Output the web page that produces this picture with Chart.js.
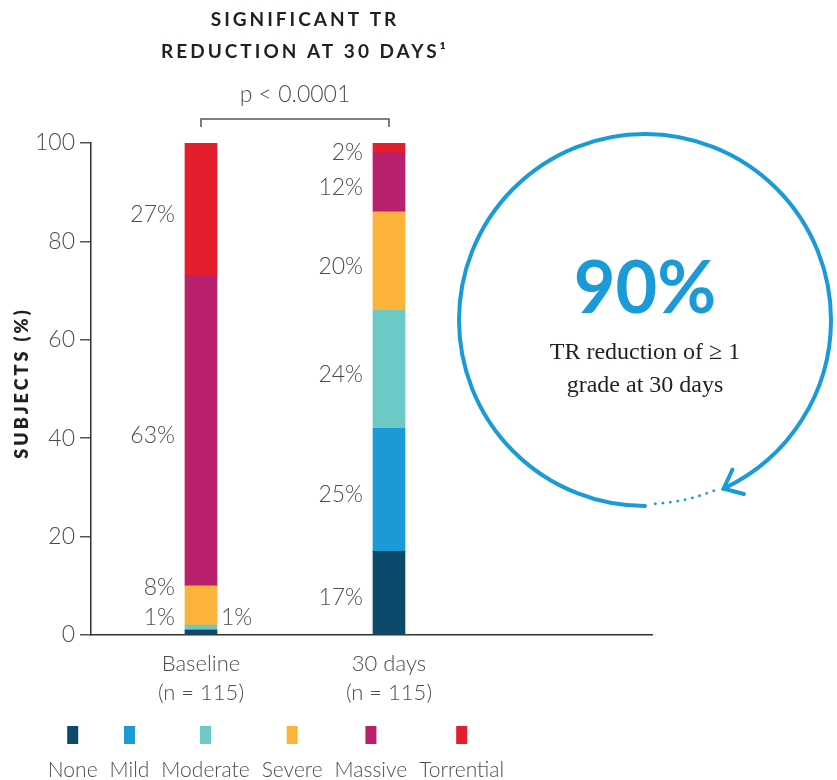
<!DOCTYPE html>
<html>
<head>
<meta charset="utf-8">
<script src="https://cdn.jsdelivr.net/npm/chart.js@4.4.1/dist/chart.umd.min.js"></script>
<style>
html, body { margin: 0; padding: 0; background: #fff; }
</style>
</head>
<body>
<canvas id="trChart" width="837" height="780"></canvas>
<script>
// bars sit on a linear x axis: 1 = baseline, 2 = 30 days
var positions = [1, 2];
var categories = [['Baseline', '(n = 115)'], ['30 days', '(n = 115)']];
var grades = ['None', 'Mild', 'Moderate', 'Severe', 'Massive', 'Torrential'];
var none = [1, 17];
var mild = [0, 25];
var moderate = [1, 24];
var severe = [8, 20];
var massive = [63, 12];
var torrential = [27, 2];
var yTicks = [0, 20, 40, 60, 80, 100];

var colors = ['#0b4a6a', '#1b9ad6', '#6cc9c5', '#fbb33b', '#b81f6d', '#e41e2d'];
var textColor = '#4d4d4d';
var lightFont = 'Lato, "Open Sans", sans-serif';

var segmentLabels = {
    id: 'segmentLabels',
    afterDatasetsDraw: function (chart) {
        var ctx = chart.ctx;
        var zero = chart.scales.y.getPixelForValue(0);
        ctx.save();
        ctx.font = '300 23px ' + lightFont;
        ctx.fillStyle = textColor;
        ctx.textBaseline = 'middle';
        positions.forEach(function (p, i) {
            var lastLeft = null;
            chart.data.datasets.forEach(function (ds, d) {
                var v = ds.data[i];
                if (!v) return;
                var bar = chart.getDatasetMeta(d).data[i];
                var y = Math.min((bar.y + bar.base) / 2 + 5, zero - 17);
                var left = true;
                if (lastLeft !== null && lastLeft - y < 30) {
                    if (v <= 2) left = false;
                    else y = lastLeft - 30;
                }
                ctx.textAlign = left ? 'right' : 'left';
                ctx.fillText(v + '%', left ? bar.x - bar.width / 2 - 10 : bar.x + bar.width / 2 + 4, y);
                if (left) lastLeft = y;
            });
        });
        ctx.restore();
    }
};

var decorations = {
    id: 'decorations',
    afterDraw: function (chart) {
        var ctx = chart.ctx;
        var xs = chart.scales.x;
        var x1 = xs.getPixelForValue(positions[0]);
        var x2 = xs.getPixelForValue(positions[1]);
        ctx.save();

        // title
        ctx.fillStyle = '#231f20';
        ctx.font = '700 19px ' + lightFont;
        ctx.letterSpacing = '3px';
        ctx.textAlign = 'center';
        ctx.textBaseline = 'middle';
        ctx.fillText('SIGNIFICANT TR', 305, 20);
        ctx.fillText('REDUCTION AT 30 DAYS\u00b9', 305, 52);

        // y axis title
        ctx.save();
        ctx.translate(22, 383);
        ctx.rotate(-Math.PI / 2);
        ctx.font = '800 18px ' + lightFont;
        ctx.letterSpacing = '3px';
        ctx.fillText('SUBJECTS (%)', 0, 0);
        ctx.restore();
        ctx.letterSpacing = '0px';

        // p-value bracket
        ctx.strokeStyle = '#555';
        ctx.lineWidth = 1.5;
        ctx.beginPath();
        ctx.moveTo(x1, 127);
        ctx.lineTo(x1, 119);
        ctx.lineTo(x2, 119);
        ctx.lineTo(x2, 127);
        ctx.stroke();
        ctx.fillStyle = textColor;
        ctx.font = '300 23px ' + lightFont;
        ctx.fillText('p < 0.0001', (x1 + x2) / 2, 95);

        // circle with arrow
        var cx = 645, cy = 320, r = 186;
        var end = 65 * Math.PI / 180;
        ctx.strokeStyle = '#1a9bd7';
        ctx.lineWidth = 4;
        ctx.lineCap = 'round';
        ctx.beginPath();
        ctx.arc(cx, cy, r, Math.PI / 2, end + 2 * Math.PI);
        ctx.stroke();
        var tx = cx + r * Math.cos(end), ty = cy + r * Math.sin(end);
        var back = Math.atan2(-Math.cos(end), Math.sin(end));
        ctx.beginPath();
        ctx.moveTo(tx + 21 * Math.cos(back - 0.7), ty + 21 * Math.sin(back - 0.7));
        ctx.lineTo(tx, ty);
        ctx.lineTo(tx + 21 * Math.cos(back + 0.7), ty + 21 * Math.sin(back + 0.7));
        ctx.stroke();
        ctx.lineWidth = 2.5;
        ctx.setLineDash([0.5, 7]);
        ctx.beginPath();
        ctx.arc(cx, cy, r - 2, 68 * Math.PI / 180, 88 * Math.PI / 180);
        ctx.stroke();
        ctx.setLineDash([]);

        ctx.fillStyle = '#1a9bd7';
        ctx.font = '700 72px ' + lightFont;
        ctx.textBaseline = 'alphabetic';
        ctx.fillText('90%', cx, 313);
        ctx.fillStyle = '#231f20';
        ctx.font = '24px "Liberation Serif", "DejaVu Serif", serif';
        ctx.fillText('TR reduction of \u2265 1', cx, 359);
        ctx.fillText('grade at 30 days', cx, 392);

        // legend
        ctx.font = '300 21px ' + lightFont;
        ctx.textBaseline = 'middle';
        var widths = grades.map(function (g) { return ctx.measureText(g).width; });
        var gap = 12;
        var total = widths.reduce(function (a, b) { return a + b; }, 0) + gap * (grades.length - 1);
        var x = 276 - total / 2;
        grades.forEach(function (g, k) {
            var c = x + widths[k] / 2;
            ctx.fillStyle = colors[k];
            ctx.fillRect(c - 5.5, 726, 11, 18);
            ctx.fillStyle = textColor;
            ctx.fillText(g, c, 770);
            x += widths[k] + gap;
        });
        ctx.restore();
    }
};

var series = [none, mild, moderate, severe, massive, torrential];

var ctx = document.getElementById('trChart').getContext('2d');
var trChart = new Chart(ctx, {
    type: 'bar',
    data: {
        labels: positions,
        datasets: series.map(function (values, k) {
            return {
                label: grades[k],
                data: values,
                backgroundColor: colors[k],
                borderWidth: 0,
                barThickness: 32
            };
        })
    },
    options: {
        responsive: false,
        animation: false,
        layout: { padding: { top: 143, right: 185, left: 0, bottom: 0 } },
        plugins: {
            legend: { display: false },
            tooltip: { enabled: false }
        },
        scales: {
            x: {
                type: 'linear',
                offset: false,
                stacked: true,
                min: 0.415,
                max: 3.399,
                afterBuildTicks: function (scale) {
                    scale.ticks = positions.map(function (p) { return { value: p }; });
                },
                afterFit: function (scale) { scale.height = 145; },
                grid: { display: false, drawTicks: false },
                border: { display: true, color: '#333', width: 1.5 },
                ticks: {
                    padding: 15,
                    maxRotation: 0,
                    autoSkip: false,
                    color: textColor,
                    font: { family: lightFont, size: 22, weight: '300', lineHeight: 1.3 },
                    callback: function (value) { return categories[positions.indexOf(value)]; }
                }
            },
            y: {
                stacked: true,
                min: 0,
                max: 100,
                afterBuildTicks: function (scale) {
                    scale.ticks = yTicks.map(function (v) { return { value: v }; });
                },
                afterFit: function (scale) { scale.width = 91; },
                grid: { drawOnChartArea: false, tickLength: 11, color: '#555', lineWidth: 1.5 },
                border: { display: true, color: '#333', width: 1.5 },
                ticks: {
                    padding: 5,
                    color: textColor,
                    font: { family: lightFont, size: 23, weight: '300' }
                }
            }
        }
    },
    plugins: [segmentLabels, decorations]
});
</script>
</body>
</html>
